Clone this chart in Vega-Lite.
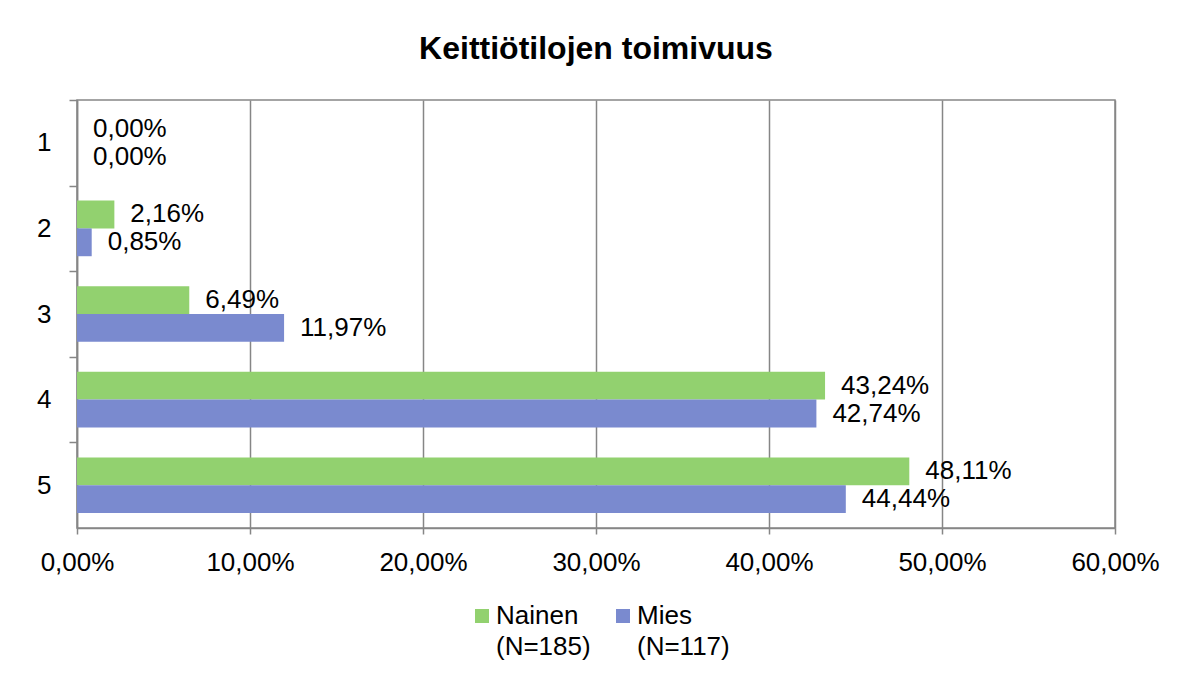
{
  "$schema": "https://vega.github.io/schema/vega-lite/v6.json",
  "width": 1038,
  "height": 428,
  "autosize": {"type": "none"},
  "padding": {"left": 77, "top": 100, "right": 64, "bottom": 148},
  "background": "white",
  "title": {
    "text": "Keittiötilojen toimivuus",
    "fontSize": 32,
    "fontWeight": "bold",
    "font": "Liberation Sans",
    "color": "black",
    "anchor": "middle",
    "offset": 33
  },
  "data": {
    "values": [
      {"luokka": "1", "sukupuoli": "Nainen", "osuus": 0.0},
      {"luokka": "1", "sukupuoli": "Mies", "osuus": 0.0},
      {"luokka": "2", "sukupuoli": "Nainen", "osuus": 0.0216},
      {"luokka": "2", "sukupuoli": "Mies", "osuus": 0.0085},
      {"luokka": "3", "sukupuoli": "Nainen", "osuus": 0.0649},
      {"luokka": "3", "sukupuoli": "Mies", "osuus": 0.1197},
      {"luokka": "4", "sukupuoli": "Nainen", "osuus": 0.4324},
      {"luokka": "4", "sukupuoli": "Mies", "osuus": 0.4274},
      {"luokka": "5", "sukupuoli": "Nainen", "osuus": 0.4811},
      {"luokka": "5", "sukupuoli": "Mies", "osuus": 0.4444}
    ]
  },
  "encoding": {
    "y": {
      "field": "luokka",
      "type": "ordinal",
      "title": null,
      "scale": {"paddingInner": 0.35, "paddingOuter": 0.175},
      "axis": {
        "labelAngle": 0,
        "labelFontSize": 26,
        "labelFont": "Liberation Sans",
        "labelColor": "black",
        "tickOffset": -42.8,
        "labelOffset": 42.8,
        "tickSize": 8,
        "tickColor": "#868686",
        "tickWidth": 1.5,
        "domainColor": "#868686",
        "domainWidth": 1.5,
        "labelPadding": 18
      }
    },
    "yOffset": {"field": "sukupuoli", "sort": ["Nainen", "Mies"]},
    "x": {
      "field": "osuus",
      "type": "quantitative",
      "title": null,
      "scale": {"domain": [0, 0.6], "nice": false},
      "axis": {
        "values": [0, 0.1, 0.2, 0.3, 0.4, 0.5, 0.6],
        "format": ".2%",
        "labelFontSize": 26,
        "labelFont": "Liberation Sans",
        "labelColor": "black",
        "grid": true,
        "gridColor": "#868686",
        "gridWidth": 1.5,
        "tickSize": 6,
        "tickColor": "#868686",
        "tickWidth": 1.5,
        "domainColor": "#868686",
        "domainWidth": 1.5,
        "labelPadding": 15,
        "labelFlush": false
      }
    }
  },
  "layer": [
    {
      "mark": {"type": "bar"},
      "encoding": {
        "color": {
          "field": "sukupuoli",
          "type": "nominal",
          "sort": ["Nainen", "Mies"],
          "scale": {"domain": ["Nainen", "Mies"], "range": ["#92D16F", "#7A8ACF"]},
          "legend": {
            "title": null,
            "orient": "none",
            "legendX": 392,
            "legendY": 503,
            "direction": "horizontal",
            "columns": 2,
            "columnPadding": 19,
            "padding": 0,
            "symbolType": "square",
            "symbolSize": 196,
            "symbolStrokeWidth": 0,
            "labelFontSize": 26,
            "labelFont": "Liberation Sans",
            "labelColor": "black",
            "labelOffset": 1,
            "labelLimit": 300,
            "labelBaseline": "top",
            "labelExpr": "datum.value == 'Nainen' ? ['Nainen', '(N=185)'] : ['Mies', '(N=117)']",
            "encode": {
              "labels": {"update": {"lineHeight": {"value": 31}, "dy": {"value": -13}}}
            }
          }
        }
      }
    },
    {
      "mark": {"type": "text", "align": "left", "baseline": "middle", "dx": 16, "fontSize": 26, "font": "Liberation Sans", "color": "black"},
      "encoding": {
        "text": {"field": "osuus", "type": "quantitative", "format": ".2%"}
      }
    }
  ],
  "config": {
    "locale": {
      "number": {"decimal": ",", "thousands": " ", "grouping": [3], "currency": ["", " €"]}
    },
    "view": {"stroke": "#868686", "strokeWidth": 1.5}
  }
}
